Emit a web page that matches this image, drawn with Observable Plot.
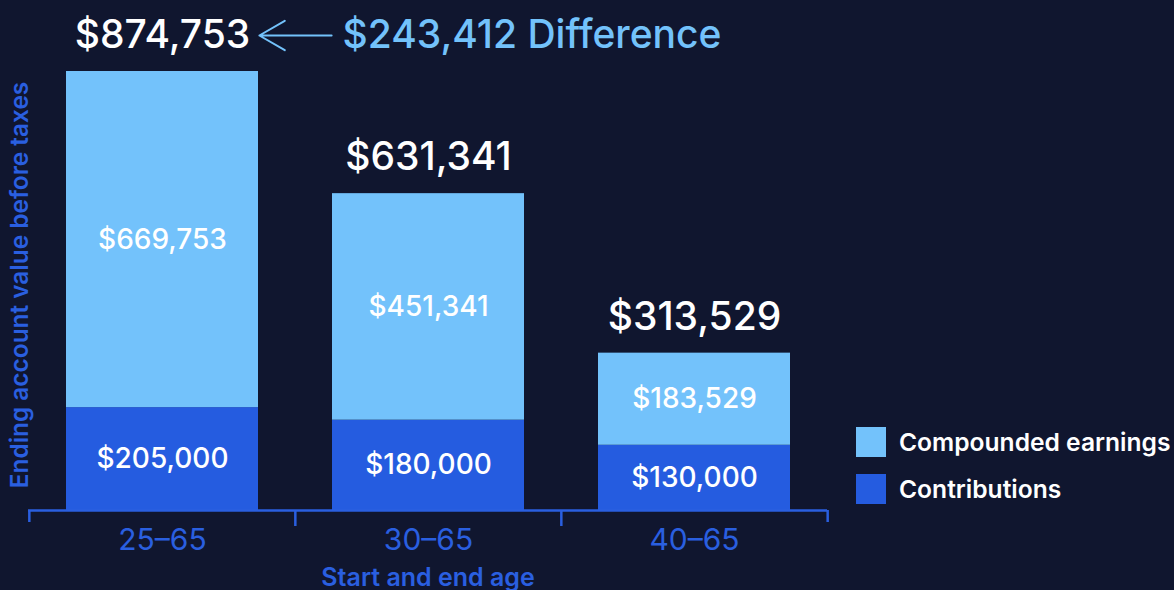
<!DOCTYPE html>
<html><head><meta charset="utf-8">
<script src="https://cdn.jsdelivr.net/npm/d3@7"></script>
<script src="https://cdn.jsdelivr.net/npm/@observablehq/plot@0.6"></script>
<style>
html,body{margin:0;padding:0;background:#10162f;}
#wrap{position:relative;width:1174px;height:590px;overflow:hidden;font-family:Inter,"Noto Sans",sans-serif;}
#legend{position:absolute;left:856px;top:427px;color:#fff;font-size:24.6px;font-weight:600;}
#legend .item{display:flex;align-items:center;height:30px;margin-bottom:17px;}
#legend .sw{width:30px;height:30px;margin-right:13px;}
</style></head><body><div id="wrap"></div>
<script>
const categories = ["25–65", "30–65", "40–65"];
const contributions = [205000, 180000, 130000];
const earnings = [669753, 451341, 183529];
const totals = [874753, 631341, 313529];
const difference = 243412;
const seriesNames = ["Contributions", "Compounded earnings"];
const seriesColors = ["#255ce0", "#73c2fb"];
const legendOrder = ["Compounded earnings", "Contributions"];
const xLabel = "Start and end age";
const yLabel = "Ending account value before taxes";

const fmt = v => "$" + d3.format(",")(v);
const rows = [];
categories.forEach((c, i) => {
  rows.push({cat: c, series: "Contributions", value: contributions[i]});
  rows.push({cat: c, series: "Compounded earnings", value: earnings[i]});
});
const totalRows = categories.map((c, i) => ({cat: c, total: totals[i]}));

const W = 1174, H = 590, ML = 28, MR = 347, MT = 71, MB = 80;
const padIn = 0.28, padOut = 0.14;
const step = (W - ML - MR) / (categories.length - padIn + 2 * padOut);
const half = step * (1 - padIn) / 2;
const blue = "#2a5fe0", light = "#73c2fb";
const font = "Inter, 'Noto Sans', sans-serif";

const chart = Plot.plot({
  width: W, height: H,
  marginLeft: ML, marginRight: MR, marginTop: MT, marginBottom: MB,
  style: {background: "#10162f", fontFamily: font, overflow: "visible"},
  x: {domain: categories, paddingInner: padIn, paddingOuter: padOut, axis: null},
  y: {domain: [0, d3.max(totals)], axis: null},
  color: {domain: seriesNames, range: seriesColors},
  marks: [
    Plot.barY(rows, {x: "cat", y: "value", fill: "series", order: seriesNames}),
    Plot.text(rows, Plot.stackY({x: "cat", y: "value", z: "series", order: seriesNames,
      text: d => fmt(d.value), fill: "#fff", fontSize: 28, fontWeight: 500})),
    Plot.text(totalRows, {x: "cat", y: "total", text: d => fmt(d.total), dy: -36,
      fill: "#fff", fontSize: 39, fontWeight: 500}),
    Plot.arrow([{from: categories[1], to: categories[0], y: totals[0]}], {
      x1: "from", x2: "to", y1: "y", y2: "y", dy: -36,
      insetStart: half + 1, insetEnd: half + 1, stroke: light, strokeWidth: 2, headLength: 22, bend: 0}),
    Plot.text([{cat: categories[1], y: totals[0]}], {x: "cat", y: "y", dx: -half + 10, dy: -36,
      text: () => fmt(difference) + " Difference", textAnchor: "start",
      fill: light, fontSize: 39, fontWeight: 500}),
    Plot.ruleY([0], {stroke: blue, strokeWidth: 2.5}),
    Plot.ruleX(categories.slice(1), {x: d => d, y1: 0, y2: 0, dx: -step / 2, insetBottom: -16, stroke: blue, strokeWidth: 2.5}),
    Plot.ruleX(categories.slice(0, 1), {x: d => d, y1: 0, y2: 0, dx: -step / 2, insetBottom: -12, stroke: blue, strokeWidth: 2.5}),
    Plot.ruleX(categories.slice(-1), {x: d => d, y1: 0, y2: 0, dx: step / 2, insetBottom: -12, stroke: blue, strokeWidth: 2.5}),
    Plot.text(categories, {x: d => d, y: () => 0, dy: 30, text: d => d, fill: blue, fontSize: 30, fontWeight: 400}),
    Plot.text([xLabel], {frameAnchor: "bottom", dy: 75, text: d => d, fill: blue, fontSize: 25, fontWeight: 600}),
    Plot.text([yLabel], {frameAnchor: "left", textAnchor: "middle", dx: -8, dy: -6, rotate: -90, text: d => d, fill: blue, fontSize: 24.4, fontWeight: 600})
  ]
});
const wrap = document.getElementById("wrap");
wrap.appendChild(chart);
const legend = document.createElement("div");
legend.id = "legend";
legendOrder.forEach(name => {
  const item = document.createElement("div");
  item.className = "item";
  const sw = document.createElement("div");
  sw.className = "sw";
  sw.style.background = seriesColors[seriesNames.indexOf(name)];
  const t = document.createElement("span");
  t.textContent = name;
  item.appendChild(sw); item.appendChild(t);
  legend.appendChild(item);
});
wrap.appendChild(legend);
</script></body></html>
